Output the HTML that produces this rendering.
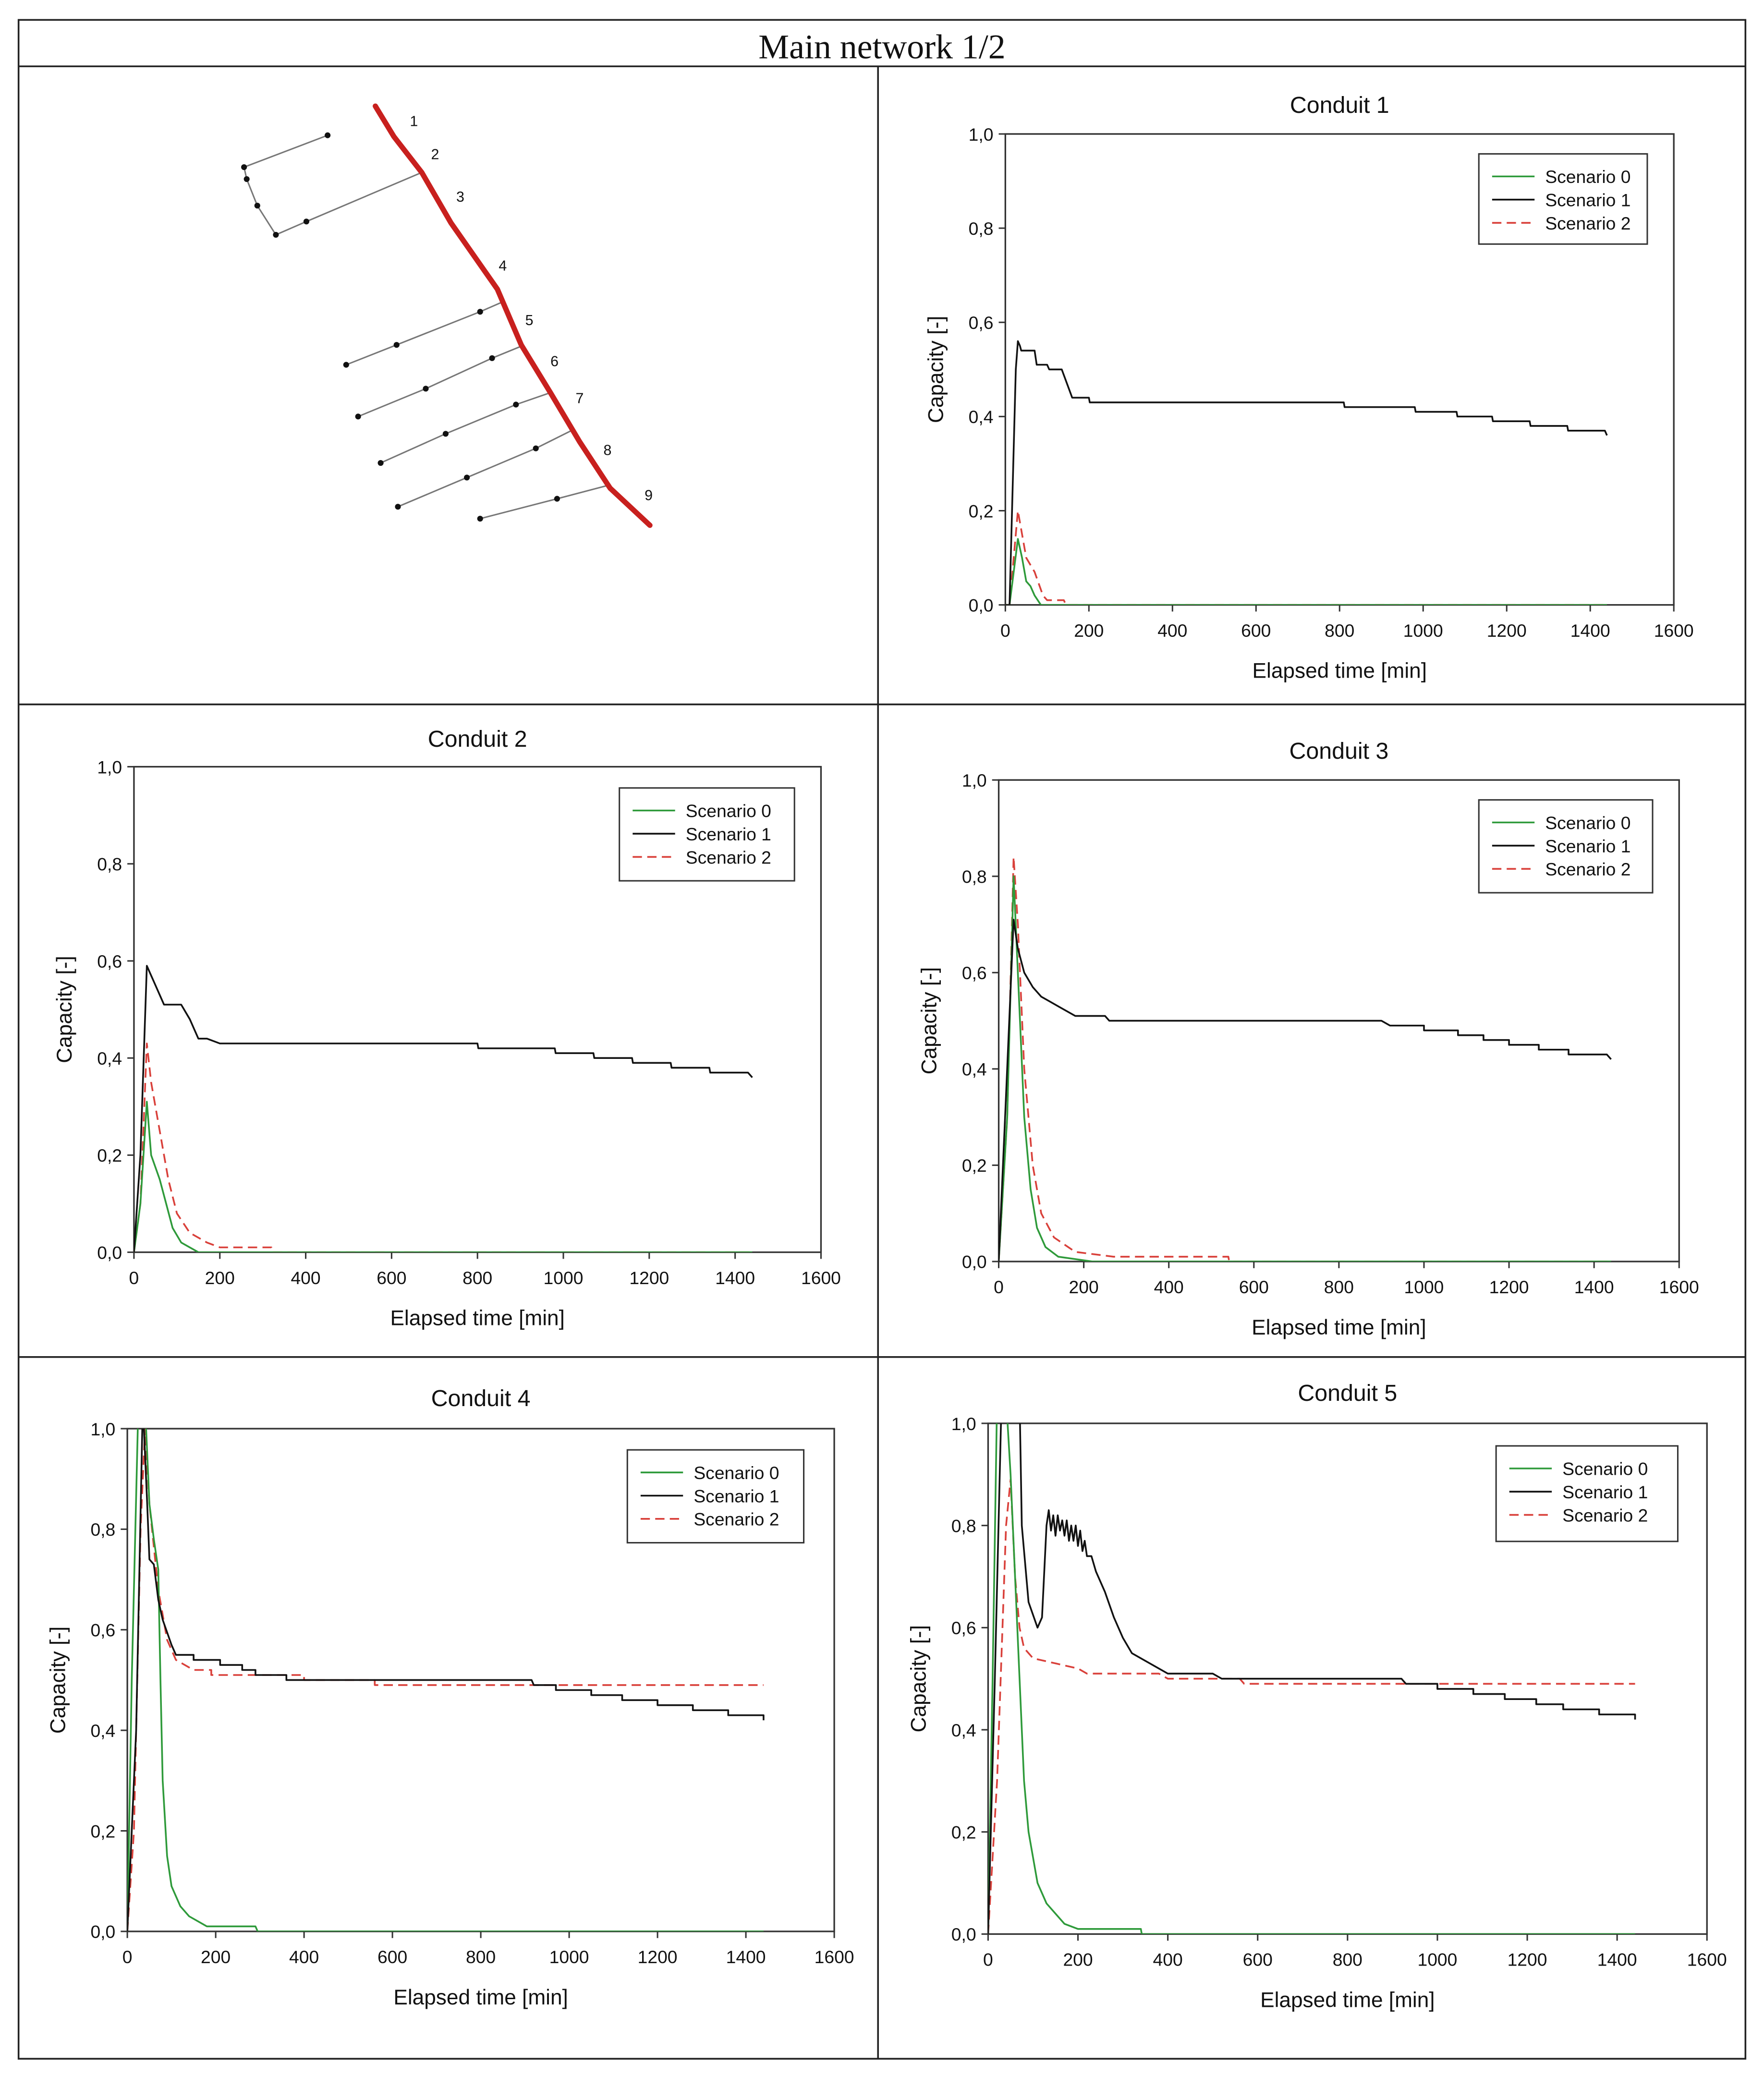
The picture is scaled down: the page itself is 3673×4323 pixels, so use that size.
<!DOCTYPE html>
<html><head><meta charset="utf-8">
<style>
html,body{margin:0;padding:0;background:#fff;}
svg{display:block;}
text{font-family:"Liberation Sans",Arial,sans-serif;fill:#111;}
</style></head>
<body>
<svg id="root" width="3673" height="4323" viewBox="0 0 1330 1565" preserveAspectRatio="none" xmlns="http://www.w3.org/2000/svg">
<rect x="0" y="0" width="1330" height="1565" fill="#fff"/>
<g fill="none" stroke="#222" stroke-width="1.3">
<rect x="14" y="15" width="1302" height="1537"/>
<line x1="14" y1="50" x2="1316" y2="50"/>
<line x1="662" y1="50" x2="662" y2="1552"/>
<line x1="14" y1="531" x2="1316" y2="531"/>
<line x1="14" y1="1023" x2="1316" y2="1023"/>
</g>
<text x="665" y="44" text-anchor="middle" style="font-family:'Liberation Serif',serif;font-size:26px">Main network 1/2</text>
<g id="map"></g>
<g id="charts"></g>
</svg>
<script>
const NS="http://www.w3.org/2000/svg";
function mk(tag,attrs,parent){const e=document.createElementNS(NS,tag);for(const k in attrs)e.setAttribute(k,attrs[k]);parent.appendChild(e);return e;}

// ---------- network map ----------
const map=document.getElementById('map');
const mainPipe=[[283,80],[297,103],[318,130],[340,168],[375,218],[393,260],[415,296],[437,333],[460,368],[490,396]];
const branches=[
 [[247,102],[184,126],[186,135],[194,155],[208,177],[231,167],[318,130]],
 [[261,275],[299,260],[362,235],[378,228]],
 [[270,314],[321,293],[371,270],[393,261]],
 [[287,349],[336,327],[389,305],[415,296]],
 [[300,382],[352,360],[404,338],[432,324]],
 [[362,391],[420,376],[458,366]]
];
const nodeLabels=[[309,95,'1'],[325,120,'2'],[344,152,'3'],[376,204,'4'],[396,245,'5'],[415,276,'6'],[434,304,'7'],[455,343,'8'],[486,377,'9']];
branches.forEach((b,i)=>{
 const p=mk('polyline',{points:b.map(q=>q.join(',')).join(' '),fill:'none',stroke:'#777','stroke-width':1.1},map);
 
 
 b.forEach((q,j)=>{ if(j<b.length-1){const c=mk('circle',{cx:q[0],cy:q[1],r:2.2,fill:'#111'},map);
  
  }});
});
const mp=mk('polyline',{points:mainPipe.map(q=>q.join(',')).join(' '),fill:'none',stroke:'#c8201e','stroke-width':4,'stroke-linejoin':'round','stroke-linecap':'round'},map);


nodeLabels.forEach(l=>{const t=mk('text',{x:l[0],y:l[1],'font-size':11},map);t.textContent=l[2];
 
 });

// ---------- chart data ----------
const xTicks=[0,200,400,600,800,1000,1200,1400,1600];
const yTicks=[0,0.2,0.4,0.6,0.8,1.0];
const yTickLabels=['0,0','0,2','0,4','0,6','0,8','1,0'];
const seriesNames=['Scenario 0','Scenario 1','Scenario 2'];

const c1_s0=[[0,0],[10,0],[30,0.14],[40,0.1],[50,0.05],[60,0.04],[70,0.02],[85,0],[1440,0]];
const c1_s1=[[0,0],[10,0],[25,0.5],[30,0.56],[35,0.55],[38,0.54],[70,0.54],[75,0.51],[100,0.51],[105,0.5],[135,0.5],[160,0.44],[200,0.44],[202,0.43],[810,0.43],[812,0.42],[980,0.42],[982,0.41],[1080,0.41],[1082,0.4],[1165,0.4],[1167,0.39],[1255,0.39],[1257,0.38],[1345,0.38],[1347,0.37],[1435,0.37],[1440,0.36]];
const c1_s2=[[0,0],[10,0],[30,0.2],[40,0.15],[50,0.1],[70,0.07],[90,0.02],[100,0.01],[140,0.01],[145,0],[1440,0]];

const c2_s0=[[0,0],[15,0.1],[30,0.31],[40,0.2],[60,0.15],[75,0.1],[90,0.05],[110,0.02],[150,0],[1440,0]];
const c2_s1=[[0,0],[15,0.2],[30,0.59],[40,0.57],[50,0.55],[60,0.53],[70,0.51],[110,0.51],[130,0.48],[150,0.44],[170,0.44],[200,0.43],[800,0.43],[802,0.42],[980,0.42],[982,0.41],[1070,0.41],[1072,0.4],[1160,0.4],[1162,0.39],[1250,0.39],[1252,0.38],[1340,0.38],[1342,0.37],[1430,0.37],[1440,0.36]];
const c2_s2=[[0,0],[15,0.1],[30,0.43],[40,0.35],[60,0.25],[80,0.15],[100,0.08],[130,0.04],[170,0.02],[200,0.01],[320,0.01],[322,0],[1440,0]];

const c3_s0=[[0,0],[20,0.3],[35,0.8],[45,0.6],[60,0.3],[75,0.15],[90,0.07],[110,0.03],[140,0.01],[220,0],[1440,0]];
const c3_s1=[[0,0],[15,0.3],[35,0.71],[45,0.65],[60,0.6],[80,0.57],[100,0.55],[120,0.54],[140,0.53],[160,0.52],[180,0.51],[250,0.51],[260,0.5],[900,0.5],[920,0.49],[1000,0.49],[1000,0.48],[1080,0.48],[1080,0.47],[1140,0.47],[1140,0.46],[1200,0.46],[1200,0.45],[1270,0.45],[1270,0.44],[1340,0.44],[1340,0.43],[1430,0.43],[1440,0.42]];
const c3_s2=[[0,0],[20,0.3],[35,0.84],[45,0.7],[60,0.4],[80,0.2],[100,0.1],[130,0.05],[180,0.02],[270,0.01],[540,0.01],[542,0],[1440,0]];

const c4_s0=[[0,0],[10,0.5],[25,1.05],[40,1.05],[50,0.85],[60,0.78],[70,0.72],[75,0.5],[80,0.3],[90,0.15],[100,0.09],[120,0.05],[140,0.03],[160,0.02],[180,0.01],[290,0.01],[295,0],[1440,0]];
const c4_s1=[[0,0],[20,0.4],[35,1.05],[45,0.85],[50,0.74],[60,0.73],[70,0.66],[80,0.62],[100,0.57],[110,0.55],[150,0.55],[150,0.54],[210,0.54],[210,0.53],[260,0.53],[260,0.52],[290,0.52],[290,0.51],[360,0.51],[360,0.5],[915,0.5],[920,0.49],[970,0.49],[970,0.48],[1050,0.48],[1050,0.47],[1120,0.47],[1120,0.46],[1200,0.46],[1200,0.45],[1280,0.45],[1280,0.44],[1360,0.44],[1360,0.43],[1440,0.43],[1440,0.42]];
const c4_s2=[[0,0],[15,0.2],[30,0.8],[40,1.0],[50,0.85],[70,0.68],[90,0.58],[110,0.54],[130,0.53],[150,0.52],[190,0.52],[190,0.51],[400,0.51],[400,0.5],[560,0.5],[560,0.49],[1440,0.49]];

const c5_s0=[[0,0],[10,0.5],[20,1.05],[40,1.05],[50,0.9],[55,0.8],[70,0.5],[80,0.3],[90,0.2],[110,0.1],[130,0.06],[150,0.04],[170,0.02],[200,0.01],[340,0.01],[342,0],[1440,0]];
const c5_s1=[[0,0],[15,0.5],[30,1.05],[70,1.05],[75,0.8],[90,0.65],[110,0.6],[120,0.62],[130,0.8],[135,0.83],[140,0.79],[145,0.82],[150,0.78],[155,0.82],[160,0.79],[165,0.81],[170,0.78],[175,0.81],[180,0.77],[185,0.8],[190,0.77],[195,0.8],[200,0.76],[205,0.79],[210,0.75],[215,0.77],[220,0.74],[230,0.74],[240,0.71],[260,0.67],[280,0.62],[300,0.58],[320,0.55],[340,0.54],[360,0.53],[380,0.52],[400,0.51],[500,0.51],[520,0.5],[920,0.5],[930,0.49],[1000,0.49],[1000,0.48],[1080,0.48],[1080,0.47],[1150,0.47],[1150,0.46],[1220,0.46],[1220,0.45],[1280,0.45],[1280,0.44],[1360,0.44],[1360,0.43],[1440,0.43],[1440,0.42]];
const c5_s2=[[0,0],[20,0.3],[40,0.8],[50,0.89],[60,0.7],[70,0.6],[80,0.56],[100,0.54],[150,0.53],[200,0.52],[220,0.51],[380,0.51],[400,0.5],[560,0.5],[570,0.49],[1440,0.49]];

const chartTitles=['Conduit 1','Conduit 2','Conduit 3','Conduit 4','Conduit 5'];
const chartSeries=[[c1_s0,c1_s1,c1_s2],[c2_s0,c2_s1,c2_s2],[c3_s0,c3_s1,c3_s2],[c4_s0,c4_s1,c4_s2],[c5_s0,c5_s1,c5_s2]];

// layout (not data)
const layouts=[
 {x0:758,x1:1262,y0:456,y1:101,ty:85,lx:1115,ly:116,lw:127,lh:68},
 {x0:101,x1:619,y0:944,y1:578,ty:563,lx:467,ly:594,lw:132,lh:70},
 {x0:753,x1:1266,y0:951,y1:588,ty:572,lx:1115,ly:603,lw:131,lh:70},
 {x0:96,x1:629,y0:1456,y1:1077,ty:1060,lx:473,ly:1093,lw:133,lh:70},
 {x0:745,x1:1287,y0:1458,y1:1073,ty:1056,lx:1128,ly:1090,lw:137,lh:72}
];
const colors=['#2e9a3a','#111','#d9403a'];
const dashes=['none','none','7,4'];
const drawOrder=[2,0,1];

const charts=document.getElementById('charts');
layouts.forEach((L,ci)=>{
 const g=mk('g',{},charts);
 
 
 const xs=v=>L.x0+(v-0)/(1600)*(L.x1-L.x0);
 const ys=v=>L.y0+(v-0)/(1.0)*(L.y1-L.y0);
 const cx=(L.x0+L.x1)/2, cy=(L.y0+L.y1)/2;
 const t=mk('text',{x:cx,y:L.ty,'text-anchor':'middle','font-size':17.5},g);
 t.textContent=chartTitles[ci];
 
 
 const cp=mk('clipPath',{id:'clip'+ci},g);
 mk('rect',{x:L.x0,y:L.y1,width:L.x1-L.x0,height:L.y0-L.y1},cp);
 const plot=mk('rect',{x:L.x0,y:L.y1,width:L.x1-L.x0,height:L.y0-L.y1,fill:'none',stroke:'#333','stroke-width':1.2},g);
 
 
 xTicks.forEach(v=>{
  const tk=mk('line',{x1:xs(v),x2:xs(v),y1:L.y0,y2:L.y0+5,stroke:'#333','stroke-width':1.1},g);
  
  
  const tl=mk('text',{x:xs(v),y:L.y0+24,'text-anchor':'middle','font-size':13.5},g);
  tl.textContent=String(v);
  
  
 });
 yTicks.forEach((v,i)=>{
  const tk=mk('line',{x1:L.x0-5,x2:L.x0,y1:ys(v),y2:ys(v),stroke:'#333','stroke-width':1.1},g);
  
  
  const tl=mk('text',{x:L.x0-9,y:ys(v)+5,'text-anchor':'end','font-size':13.5},g);
  tl.textContent=yTickLabels[i];
  
  
 });
 const xt=mk('text',{x:cx,y:L.y0+55,'text-anchor':'middle','font-size':16},g);
 xt.textContent='Elapsed time [min]';
 
 
 const yt=mk('text',{x:0,y:0,'text-anchor':'middle','font-size':16,transform:`translate(${L.x0-47},${cy}) rotate(-90)`},g);
 yt.textContent='Capacity [-]';
 
 
 const sg=mk('g',{'clip-path':`url(#clip${ci})`},g);
 drawOrder.forEach(si=>{
  const d=chartSeries[ci][si];
  const pl=mk('polyline',{points:d.map(p=>xs(p[0]).toFixed(2)+','+ys(p[1]).toFixed(2)).join(' '),fill:'none',stroke:colors[si],'stroke-width':1.3,'stroke-dasharray':dashes[si],'stroke-linejoin':'round'},sg);
  
  
 });
 const lg=mk('g',{},g);
 
 
 mk('rect',{x:L.lx,y:L.ly,width:L.lw,height:L.lh,fill:'#fff',stroke:'#333','stroke-width':1.1},lg);
 seriesNames.forEach((n,si)=>{
  const yy=L.ly+17+si*17.5;
  const ln=mk('line',{x1:L.lx+10,x2:L.lx+42,y1:yy,y2:yy,stroke:colors[si],'stroke-width':1.3,'stroke-dasharray':dashes[si]},lg);
  
  
  const lt=mk('text',{x:L.lx+50,y:yy+5,'font-size':13.5},lg);
  lt.textContent=n;
  
  
 });
});
</script>
</body></html>
